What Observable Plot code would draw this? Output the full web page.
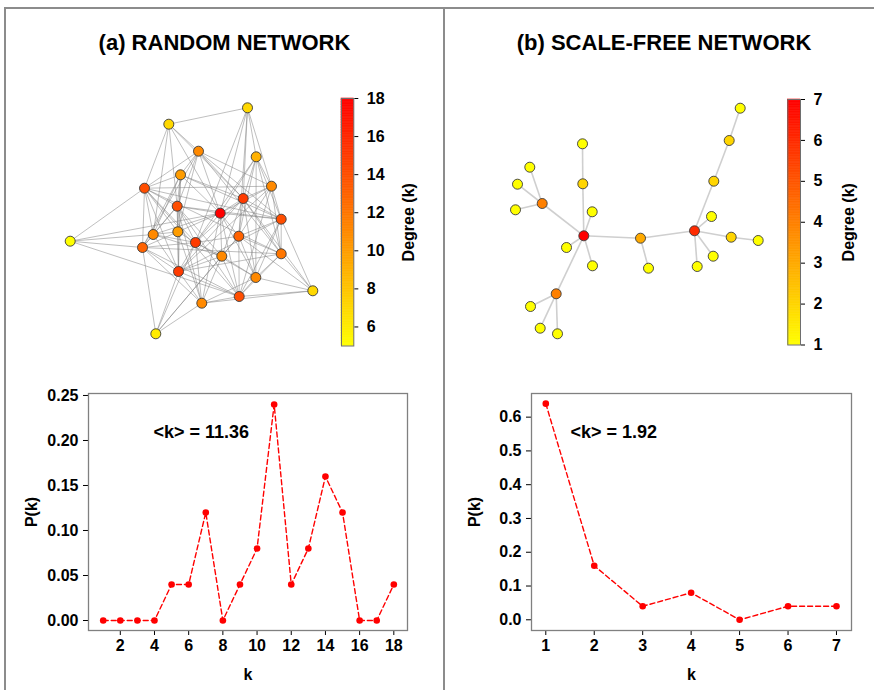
<!DOCTYPE html>
<html><head><meta charset="utf-8">
<script src="https://cdn.jsdelivr.net/npm/d3@7"></script>
<script src="https://cdn.jsdelivr.net/npm/@observablehq/plot@0.6"></script>
<style>
html,body{margin:0;padding:0;background:#fff;}
#root{position:relative;width:874px;height:690px;overflow:hidden;background:#fff;font-family:"Liberation Sans",Arial,Helvetica,sans-serif;}
.line{position:absolute;background:#8c8c8c;}
.title{position:absolute;top:32px;font-size:22px;line-height:22px;font-weight:bold;text-align:center;color:#000;white-space:nowrap;}
</style></head><body>
<div id="root">
 <div class="line" style="left:4px;top:7px;width:870px;height:2px"></div>
 <div class="line" style="left:4px;top:7px;width:2px;height:683px"></div>
 <div class="line" style="left:443px;top:7px;width:2px;height:683px"></div>
</div>
<script>
// ---------- titles ----------
const panelTitles = ["(a) RANDOM NETWORK", "(b) SCALE-FREE NETWORK"];

// ---------- degree distributions ----------
const kA = [1,2,3,4,5,6,7,8,9,10,11,12,13,14,15,16,17,18];
const pA = [0,0,0,0,0.04,0.04,0.12,0,0.04,0.08,0.24,0.04,0.08,0.16,0.12,0,0,0.04];
const meanKA = "11.36";
const kB = [1,2,3,4,5,6,7];
const pB = [0.64,0.16,0.04,0.08,0,0.04,0.04];
const meanKB = "1.92";

// tick values
const xTicksA = [2,4,6,8,10,12,14,16,18];
const yTicksA = [0,0.05,0.10,0.15,0.20,0.25];
const xTicksB = [1,2,3,4,5,6,7];
const yTicksB = [0,0.1,0.2,0.3,0.4,0.5,0.6];
const cbTicksA = [6,8,10,12,14,16,18];
const cbTicksB = [1,2,3,4,5,6,7];
const cbDomainA = [5,18];
const cbDomainB = [1,7];

// ---------- random network layout (layout coordinates) ----------
const nodeAx = [247,168.3,198,255.7,180,144,271,242.7,176.7,219.7,280.7,69.7,152.7,177.3,238.3,195,142,221.3,280.7,178,255.3,238.7,201.3,312.3,155.3];
const nodeAy = [107.3,123.7,150.7,156.3,174.3,187.7,185.7,198,205.7,212.7,218.7,240.7,234,231.3,235.7,242,247,255.7,253.3,271,277,296,302.7,290.3,333.3];
// neighbours with a higher index, per node
const adjA = [
  [1,3,6,7,9,14,15],
  [2,5,7,8,9,12],
  [4,5,6,7,8,9,10,13,16,18],
  [6,7,9,10,14,15,18,20],
  [5,7,8,9,10,12,13,16,19],
  [6,8,10,11,12,13,15,16,18,19,21],
  [7,9,10,14,18,19,21],
  [9,10,14,15,17,18,19,20,23],
  [9,10,12,13,15,16,17,19,21,22],
  [10,11,12,13,14,15,17,20,21,22],
  [14,18,19,20,21,23],
  [12,16,21],
  [13,15,16,17,19],
  [15,16,19,22],
  [15,17,18,20,21,23,24],
  [16,17,19,20,22,24],
  [18,19,21,22,24],
  [19,20,21,22,24],
  [19,20,21,23],
  [21,22,24],
  [21,22,23],
  [22,23],
  [23,24],
  [],
  []
];

// ---------- scale-free network layout ----------
const nodeBx = [739.7,728.7,713.3,582,582.3,529.3,517,515,541.7,591.7,583.3,566,592,640,648,694,711,730.7,757.7,712.7,696.7,555.7,530,539.7,557];
const nodeBy = [107.7,140,180.7,143.3,183.3,166.7,183.7,209.3,203,211.3,235.3,247,265.3,237.7,267.7,230.3,216,236.7,240,255.7,266,293.3,306,327.7,333.3];
const adjB = [
  [1],[2],[15],[4],[10],[8],[8],[8],[10],[10],
  [11,12,13,21],[],[],[14,15],[],[16,17,19,20],[],[18],[],[],
  [],[22,23,24],[],[],[]
];

// ---------- helpers ----------
const root = document.getElementById("root");
const font = {fontFamily: '"Liberation Sans", Arial, Helvetica, sans-serif', fontSize: "16px", fontWeight: "bold", background: "transparent", overflow: "visible", color: "#000"};
const heat = d3.interpolateRgb("#ffff00", "#ff0000");
const intFmt = d3.format("d");

function place(el, left, top) {
  el.style.position = "absolute";
  el.style.left = left + "px";
  el.style.top = top + "px";
  root.appendChild(el);
}

function addTitle(text, left, width) {
  const d = document.createElement("div");
  d.className = "title";
  d.style.left = left + "px";
  d.style.width = width + "px";
  d.textContent = text;
  root.appendChild(d);
}

function network({xs, ys, adj, domain, left, top, width, height, edge}) {
  const nodes = xs.map((x, i) => ({x, y: ys[i], i, k: 0}));
  const links = [];
  adj.forEach((nb, i) => nb.forEach(j => links.push({a: nodes[i], b: nodes[j]})));
  links.forEach(l => { l.a.k++; l.b.k++; });
  return Plot.plot({
    width, height, margin: 0,
    x: {domain: [left, left + width], axis: null},
    y: {domain: [top, top + height], reverse: true, axis: null},
    color: {type: "linear", domain, interpolate: heat},
    style: font,
    marks: [
      Plot.link(links, {x1: d => d.a.x, y1: d => d.a.y, x2: d => d.b.x, y2: d => d.b.y, ...edge}),
      Plot.dot(nodes, {x: "x", y: "y", r: 5, fill: "k", stroke: "#3a3a3a", strokeWidth: 0.9})
    ]
  });
}

function colorbar({domain, ticks, width, height, marginLeft, marginRight, marginTop, marginBottom, labelOffset}) {
  const n = 150, step = (domain[1] - domain[0]) / n;
  const cells = d3.range(n).map(i => domain[0] + i * step);
  return Plot.plot({
    width, height, marginLeft, marginRight, marginTop, marginBottom,
    y: {domain, ticks, tickFormat: intFmt, axis: "right", tickSize: 4, tickPadding: 9, label: "Degree (k)", labelAnchor: "center", labelOffset, labelArrow: "none"},
    color: {type: "linear", domain, interpolate: heat},
    style: font,
    marks: [
      Plot.rect(cells, {y1: d => d, y2: d => d + step, fill: d => d + step / 2, stroke: d => d + step / 2, strokeWidth: 0.6}),
      Plot.frame({stroke: "#6e6e6e", strokeWidth: 1})
    ]
  });
}

function distPlot({k, p, xDomain, yDomain, xTicks, yTicks, yFmt, note, noteDx, width, height, marginLeft, marginRight}) {
  const data = k.map((kk, i) => ({k: kk, p: p[i]}));
  return Plot.plot({
    width, height, marginLeft, marginRight, marginTop: 13, marginBottom: 60,
    x: {domain: xDomain, ticks: xTicks, tickFormat: intFmt, tickSize: 5, tickPadding: 4, label: "k", labelAnchor: "center", labelOffset: 49, labelArrow: "none"},
    y: {domain: yDomain, ticks: yTicks, tickFormat: yFmt, tickSize: 5, tickPadding: 5, label: "P(k)", labelAnchor: "center", labelOffset: 63, labelArrow: "none"},
    style: font,
    marks: [
      Plot.frame({stroke: "#808080", strokeWidth: 1.3}),
      Plot.line(data, {x: "k", y: "p", stroke: "#ff0000", strokeWidth: 1.4, strokeDasharray: "5,3"}),
      Plot.dot(data, {x: "k", y: "p", r: 3.3, fill: "#ff0000"}),
      Plot.text([note], {frameAnchor: "top-left", dx: noteDx, dy: 32, text: d => d, textAnchor: "start", fontSize: 18, fontWeight: "bold"})
    ]
  });
}

// ---------- build ----------
addTitle(panelTitles[0], 4, 441);
addTitle(panelTitles[1], 454, 420);

place(network({xs: nodeAx, ys: nodeAy, adj: adjA, domain: cbDomainA, left: 40, top: 90, width: 300, height: 260,
  edge: {stroke: "#808080", strokeOpacity: 0.5, strokeWidth: 1}}), 40, 90);
place(network({xs: nodeBx, ys: nodeBy, adj: adjB, domain: cbDomainB, left: 490, top: 90, width: 290, height: 260,
  edge: {stroke: "#cfcfcf", strokeWidth: 1.6}}), 490, 90);

place(colorbar({domain: cbDomainA, ticks: cbTicksA, width: 100, height: 280, marginLeft: 11, marginRight: 76.7, marginTop: 18, marginBottom: 14.5, labelOffset: 60}), 330, 80);
place(colorbar({domain: cbDomainB, ticks: cbTicksB, width: 99, height: 280, marginLeft: 12.3, marginRight: 74, marginTop: 19, marginBottom: 15.5, labelOffset: 53}), 775, 80);

place(distPlot({k: kA, p: pA, xDomain: [0.14, 18.8], yDomain: [-0.0111, 0.2522], xTicks: xTicksA, yTicks: yTicksA, yFmt: d3.format(".2f"),
  note: `<k> = ${meanKA}`, noteDx: 65, width: 440, height: 310, marginLeft: 88, marginRight: 33}), 0, 380);
place(distPlot({k: kB, p: pB, xDomain: [0.705, 7.31], yDomain: [-0.0317, 0.670], xTicks: xTicksB, yTicks: yTicksB, yFmt: d3.format(".1f"),
  note: `<k> = ${meanKB}`, noteDx: 39, width: 434, height: 310, marginLeft: 91, marginRight: 23}), 440, 380);
</script>
</body></html>
